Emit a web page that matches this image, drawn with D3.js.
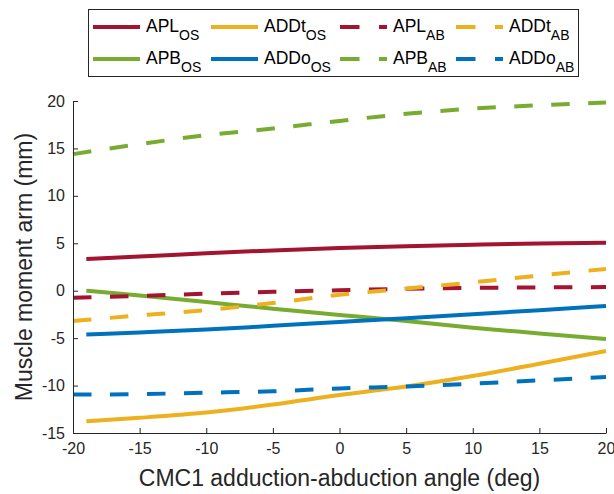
<!DOCTYPE html>
<html>
<head>
<meta charset="utf-8">
<script src="https://cdn.jsdelivr.net/npm/d3@7"></script>
<style>
  body { margin: 0; background: #fff; }
  svg { display: block; font-family: "Liberation Sans", Arial, Helvetica, sans-serif; }
</style>
</head>
<body>
<svg id="chart" width="614" height="494"></svg>
<script>
// angles (deg)
const xSolid = [-19, -15, -10, -5, 0, 5, 10, 15, 20];
const xDashed = [-20, -15, -10, -5, 0, 5, 10, 15, 20];

// moment arms (mm), OS = solid, AB = dashed
const aplOS = [3.35, 3.6, 3.95, 4.25, 4.5, 4.7, 4.85, 4.97, 5.05];
const addtOS = [-13.75, -13.4, -12.85, -12.0, -11.0, -10.1, -9.0, -7.7, -6.35];
const apbOS = [0.0, -0.5, -1.2, -1.9, -2.55, -3.2, -3.9, -4.5, -5.1];
const addoOS = [-4.62, -4.4, -4.1, -3.7, -3.3, -2.9, -2.48, -2.05, -1.6];
const aplAB = [-0.75, -0.55, -0.32, -0.12, 0.05, 0.2, 0.3, 0.35, 0.38];
const addtAB = [-3.2, -2.6, -2.05, -1.3, -0.42, 0.22, 0.88, 1.6, 2.3];
const apbAB = [14.4, 15.45, 16.4, 17.1, 17.9, 18.65, 19.2, 19.55, 19.85];
const addoAB = [-10.95, -10.9, -10.75, -10.6, -10.3, -10.1, -9.8, -9.45, -9.1];

const xTicks = [-20, -15, -10, -5, 0, 5, 10, 15, 20];
const yTicks = [-15, -10, -5, 0, 5, 10, 15, 20];

const red = "#A2142F", yellow = "#EDB120", green = "#77AC30", blue = "#0072BD";
const axisColor = "#262626";

const series = [
    {name: "APL", sub: "OS", xs: xSolid, ys: aplOS, color: red, dashed: false},
    {name: "ADDt", sub: "OS", xs: xSolid, ys: addtOS, color: yellow, dashed: false},
    {name: "APL", sub: "AB", xs: xDashed, ys: aplAB, color: red, dashed: true},
    {name: "ADDt", sub: "AB", xs: xDashed, ys: addtAB, color: yellow, dashed: true},
    {name: "APB", sub: "OS", xs: xSolid, ys: apbOS, color: green, dashed: false},
    {name: "ADDo", sub: "OS", xs: xSolid, ys: addoOS, color: blue, dashed: false},
    {name: "APB", sub: "AB", xs: xDashed, ys: apbAB, color: green, dashed: true},
    {name: "ADDo", sub: "AB", xs: xDashed, ys: addoAB, color: blue, dashed: true}
];

const svg = d3.select("#chart");
const plotLeft = 73, plotRight = 606, plotTop = 101, plotBottom = 433;

const x = d3.scaleLinear().domain([-20, 20]).range([plotLeft, plotRight]);
const y = d3.scaleLinear().domain([-15, 20]).range([plotBottom, plotTop]);

// lines
const line = d3.line()
    .x(d => x(d[0]))
    .y(d => y(d[1]))
    .curve(d3.curveMonotoneX);

// draw order: solid first then dashed
const drawOrder = [0, 4, 1, 5, 2, 6, 3, 7];
drawOrder.forEach(i => {
    const s = series[i];
    svg.append("path")
        .attr("d", line(s.xs.map((v, k) => [v, s.ys[k]])))
        .attr("fill", "none")
        .attr("stroke", s.color)
        .attr("stroke-width", 4)
        .attr("stroke-dasharray", s.dashed ? "18.5,18.5" : null);
});

// axes (plain hyphen minus like the original)
const fmt = d => String(d);
const xAxis = svg.append("g")
    .attr("transform", `translate(0,${plotBottom})`)
    .call(d3.axisBottom(x).tickValues(xTicks).tickFormat(fmt).tickSizeInner(-5).tickSizeOuter(0).tickPadding(10));
const yAxis = svg.append("g")
    .attr("transform", `translate(${plotLeft},0)`)
    .call(d3.axisLeft(y).tickValues(yTicks).tickFormat(fmt).tickSizeInner(-5).tickSizeOuter(0).tickPadding(8));

[xAxis, yAxis].forEach(g => {
    g.select(".domain").attr("stroke", axisColor).attr("stroke-width", 1);
    g.selectAll(".tick line").attr("stroke", axisColor).attr("stroke-width", 1);
    g.selectAll(".tick text")
        .attr("fill", axisColor)
        .attr("font-size", "16px")
        .attr("font-family", "Liberation Sans, Arial, sans-serif");
});

// axis labels
svg.append("text")
    .attr("x", (plotLeft + plotRight) / 2)
    .attr("y", 486)
    .attr("text-anchor", "middle")
    .attr("font-size", "23px")
    .attr("fill", axisColor)
    .text("CMC1 adduction-abduction angle (deg)");

svg.append("text")
    .attr("transform", `translate(32,${(plotTop + plotBottom) / 2}) rotate(-90)`)
    .attr("text-anchor", "middle")
    .attr("font-size", "23px")
    .attr("fill", axisColor)
    .text("Muscle moment arm (mm)");

// legend
svg.append("rect")
    .attr("x", 88.5).attr("y", 9.5)
    .attr("width", 490).attr("height", 67)
    .attr("fill", "#fff")
    .attr("stroke", axisColor)
    .attr("stroke-width", 1);

const colX = [93, 211, 340, 456];
const rowY = [27, 59];
series.forEach((s, i) => {
    const cx = colX[i % 4];
    const cy = rowY[Math.floor(i / 4)];
    svg.append("line")
        .attr("x1", cx).attr("x2", cx + 47)
        .attr("y1", cy).attr("y2", cy)
        .attr("stroke", s.color)
        .attr("stroke-width", 4)
        .attr("stroke-dasharray", s.dashed ? "19.5,19.5" : null);
    const t = svg.append("text")
        .attr("x", cx + 53)
        .attr("y", cy + 5)
        .attr("font-size", "17.5px")
        .attr("fill", "#000");
    t.append("tspan").text(s.name);
    t.append("tspan")
        .attr("dy", 8)
        .attr("font-size", "14px")
        .text(s.sub);
});
</script>
</body>
</html>
